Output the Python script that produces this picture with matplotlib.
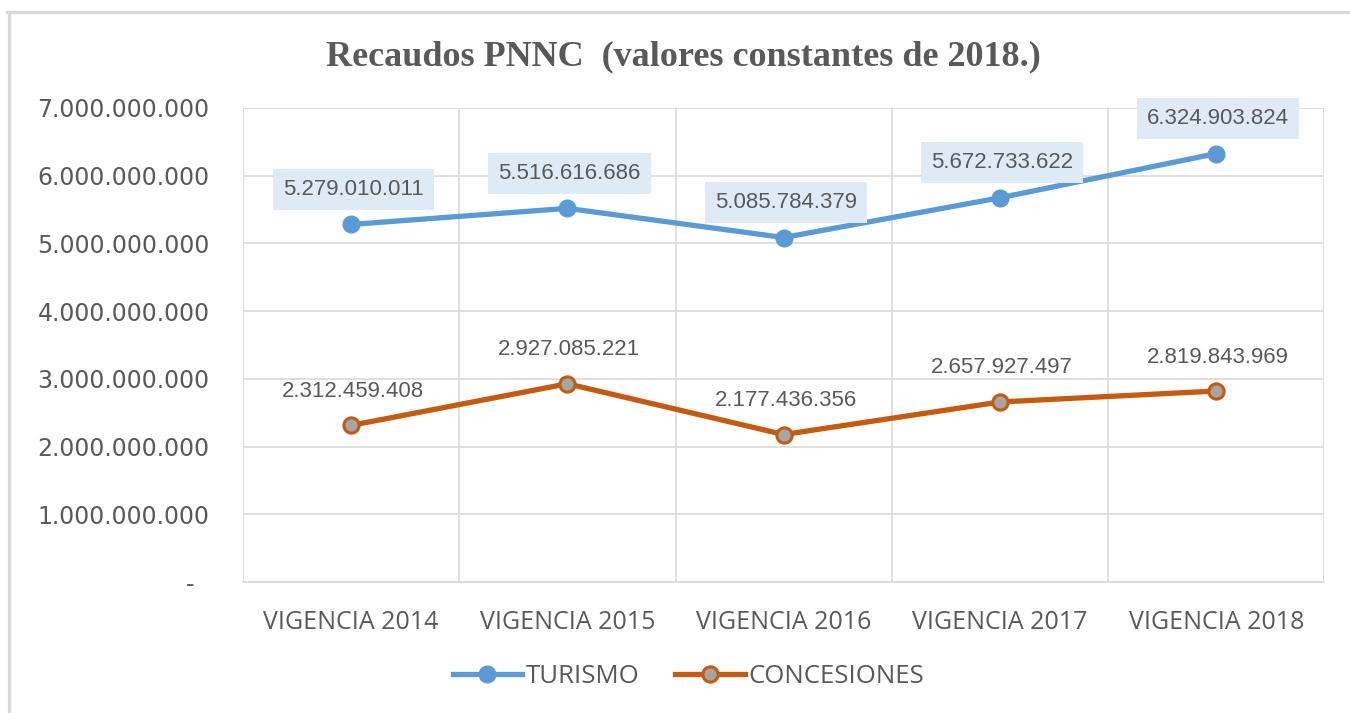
import matplotlib
matplotlib.use("Agg")
import matplotlib.pyplot as plt
from matplotlib.lines import Line2D
from matplotlib.ticker import FuncFormatter, MultipleLocator

categories = ["VIGENCIA 2014", "VIGENCIA 2015", "VIGENCIA 2016", "VIGENCIA 2017", "VIGENCIA 2018"]
turismo = [5279010011, 5516616686, 5085784379, 5672733622, 6324903824]
concesiones = [2312459408, 2927085221, 2177436356, 2657927497, 2819843969]
title = "Recaudos PNNC  (valores constantes de 2018.)"

BLUE = "#5B9BD5"
ORANGE = "#C55A11"
MARKER_GRAY = "#A5A5A5"
TEXT = "#595959"
GRID = "#D9D9D9"


def fmt(v):
    return f"{int(round(v)):,}".replace(",", ".")


fig = plt.figure(figsize=(13.5, 7.13), dpi=100)
ax = fig.add_axes([0.18, 0.1837, 0.801, 0.665])

x = list(range(len(categories)))
ax.plot(x, turismo, color=BLUE, lw=3.8, marker="o", ms=12, mfc=BLUE, mec=BLUE,
        solid_capstyle="round", zorder=3, label="TURISMO")
ax.plot(x, concesiones, color=ORANGE, lw=3.8, marker="o", ms=11, mfc=MARKER_GRAY,
        mec=ORANGE, mew=2.2, solid_capstyle="round", zorder=3, label="CONCESIONES")

for xi, v in zip(x, turismo):
    ax.annotate(fmt(v), (xi, v), xytext=(2, 35), textcoords="offset pixels",
                ha="center", va="center", fontsize=16, color=TEXT,
                family="Liberation Sans",
                bbox=dict(boxstyle="square,pad=0.45", fc="#DEEBF7", ec="none"),
                zorder=4)
for xi, v in zip(x, concesiones):
    ax.annotate(fmt(v), (xi, v), xytext=(2, 34), textcoords="offset pixels",
                ha="center", va="center", fontsize=16, color=TEXT,
                family="Liberation Sans", zorder=4)

ax.set_xlim(-0.5, len(categories) - 0.5)
ax.set_ylim(0, 7e9)
ax.yaxis.set_major_locator(MultipleLocator(1e9))
ax.yaxis.set_major_formatter(FuncFormatter(lambda v, p: "-  " if v == 0 else fmt(v)))
ax.set_xticks(x)
ax.set_xticklabels(categories)
ax.set_xticks([i + 0.5 for i in range(-1, len(categories))], minor=True)

ax.grid(axis="y", which="major", color=GRID, lw=1.2)
ax.grid(axis="x", which="minor", color=GRID, lw=1.2)
ax.grid(axis="x", which="major", visible=False)
ax.set_axisbelow(True)
for s in ["top", "right", "left"]:
    ax.spines[s].set_visible(False)
ax.spines["bottom"].set_color(GRID)
ax.spines["bottom"].set_linewidth(1.2)
ax.tick_params(axis="both", which="both", length=0)
ax.tick_params(axis="y", labelsize=17, labelcolor=TEXT, pad=24)
ax.tick_params(axis="x", labelsize=18, labelcolor=TEXT, pad=20)
for lab in ax.get_yticklabels():
    lab.set_family("DejaVu Sans")
for lab in ax.get_xticklabels():
    lab.set_family("Open Sans")

fig.text(0.506, 0.92, title, ha="center", va="center", fontsize=26,
         fontweight="bold", color=TEXT, family="Liberation Serif")

handles = [
    Line2D([0], [0], color=BLUE, lw=3.8, marker="o", ms=12, mfc=BLUE, mec=BLUE),
    Line2D([0], [0], color=ORANGE, lw=3.8, marker="o", ms=11, mfc=MARKER_GRAY, mec=ORANGE, mew=2.2),
]
leg = fig.legend(handles, ["TURISMO", "CONCESIONES"], loc="center",
                 bbox_to_anchor=(0.510, 0.051), ncol=2, frameon=False,
                 prop={"family": "Open Sans", "size": 18.5}, handlelength=2.7,
                 handletextpad=0.15, columnspacing=1.4)
for t in leg.get_texts():
    t.set_color(TEXT)

# chart border (top and left edges visible)
fig.add_artist(Line2D([0.005, 1.0], [0.983, 0.983], color=GRID, lw=2.5,
                      transform=fig.transFigure))
fig.add_artist(Line2D([0.007, 0.007], [0.0, 0.983], color=GRID, lw=2.5,
                      transform=fig.transFigure))

fig.savefig("out.png", dpi=100)
